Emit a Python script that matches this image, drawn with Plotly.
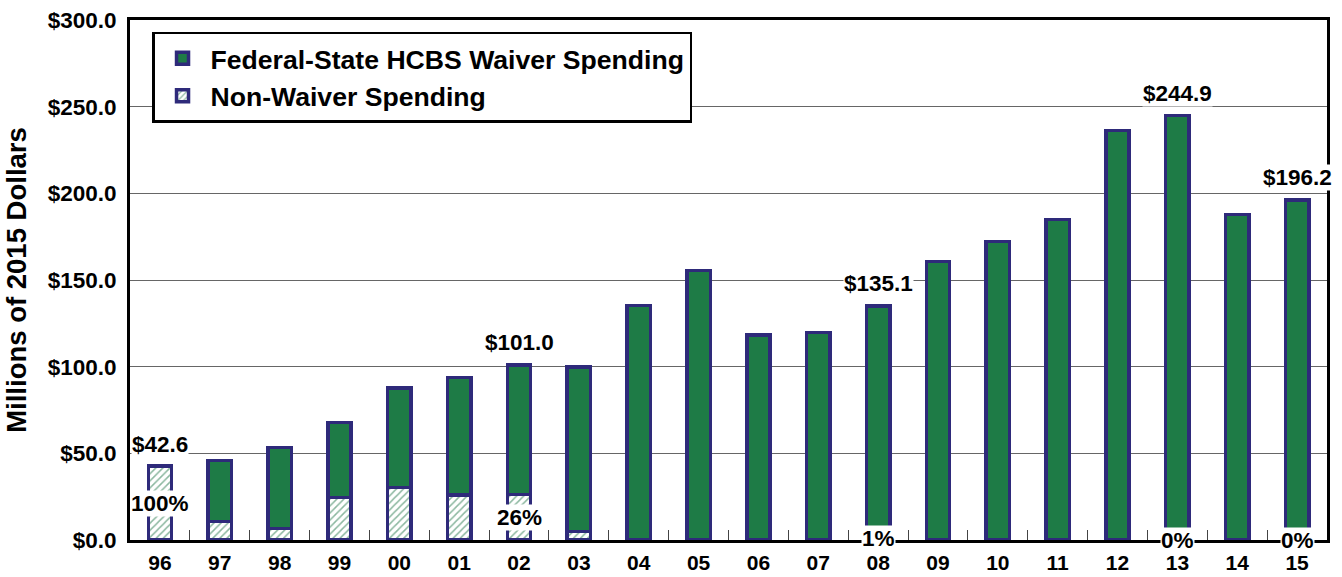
import plotly.graph_objects as go

# ---- data ----
years = ["96", "97", "98", "99", "00", "01", "02", "03", "04", "05",
         "06", "07", "08", "09", "10", "11", "12", "13", "14", "15"]
total_spending = [42.6, 45.9, 53.5, 67.8, 87.6, 93.8, 101.0, 99.7, 135.3, 155.5,
                  118.4, 119.7, 135.1, 160.7, 172.2, 184.8, 236.3, 244.9, 187.7, 196.2]
non_waiver_spending = [42.6, 10.6, 6.7, 24.6, 30.2, 26.0, 26.3, 5.0, 0.0, 0.0,
                       0.0, 0.0, 1.4, 0.0, 0.0, 0.0, 0.0, 0.0, 0.0, 0.0]
labeled_years = ["96", "02", "08", "13", "15"]
y_ticks = [0, 50, 100, 150, 200, 250, 300]
y_tick_text = ["$0.0", "$50.0", "$100.0", "$150.0", "$200.0", "$250.0", "$300.0"]

waiver_spending = [round(t - n, 1) for t, n in zip(total_spending, non_waiver_spending)]

GREEN = "#1e7b46"
HATCH_GREEN = "#177040"
NAVY = "#2e2a7a"
FONT = "Liberation Sans, Arial, Helvetica, sans-serif"

fig = go.Figure()
fig.add_trace(go.Bar(
    x=years, y=non_waiver_spending, name="Non-Waiver Spending",
    width=0.39,
    marker=dict(color="white", line=dict(color=NAVY, width=3.5),
                pattern=dict(shape="/", fgcolor=HATCH_GREEN, bgcolor="white",
                             size=5, solidity=0.3, fillmode="overlay")),
))
fig.add_trace(go.Bar(
    x=years, y=waiver_spending, name="Federal-State HCBS Waiver Spending",
    width=0.39,
    marker=dict(color=GREEN, line=dict(color=NAVY, width=3.5)),
))

annotations = []
for yr in labeled_years:
    i = years.index(yr)  # category index on the x axis
    tot = total_spending[i]
    nw = non_waiver_spending[i]
    annotations.append(dict(
        x=i, y=tot, xref="x", yref="y", text=f"${tot:.1f}",
        showarrow=False, yshift=22, yanchor="middle",
        font=dict(family=FONT, size=22.5, color="black", weight="bold"),
        bgcolor="white", borderpad=0,
    ))
    annotations.append(dict(
        x=i, y=nw / 2, xref="x", yref="y", text=f"{round(nw / tot * 100):.0f}%",
        showarrow=False, yanchor="middle",
        font=dict(family=FONT, size=22.5, color="black", weight="bold"),
        bgcolor="white", borderpad=0,
    ))

fig.update_layout(
    width=1342, height=577,
    margin=dict(l=130, r=15, t=20, b=37, autoexpand=False),
    paper_bgcolor="white", plot_bgcolor="white",
    barmode="stack",
    font=dict(family=FONT, color="black"),
    showlegend=True,
    legend=dict(
        x=0.0184, y=0.977, xanchor="left", yanchor="top",
        traceorder="reversed",
        font=dict(family=FONT, size=26.6, color="black", weight="bold"),
        bgcolor="white", bordercolor="black", borderwidth=2.5,
        itemwidth=46, tracegroupgap=0,
    ),
    annotations=annotations,
)

fig.update_xaxes(
    type="category", categoryorder="array", categoryarray=years,
    range=[-0.5, len(years) - 0.5],
    showline=True, linecolor="black", linewidth=3, mirror=True,
    ticks="inside", tickson="boundaries", ticklen=10, tickwidth=1, tickcolor="#444",
    tickfont=dict(family=FONT, size=21, color="black", weight="bold"),
    tickangle=0, ticklabelstandoff=2,
    showgrid=False,
)
fig.update_yaxes(
    range=[0, 300], tickmode="array", tickvals=y_ticks, ticktext=y_tick_text,
    showline=True, linecolor="black", linewidth=3, mirror=True,
    ticks="", ticklabelstandoff=6,
    tickfont=dict(family=FONT, size=22.5, color="black", weight="bold"),
    showgrid=True, gridcolor="#666", gridwidth=1.2,
    zeroline=False,
    title=dict(text="Millions of 2015 Dollars", standoff=14,
               font=dict(family=FONT, size=27.5, color="black", weight="bold")),
)

fig.write_html("out.html", config={"displayModeBar": False},
               post_script="document.body.style.margin='0';")
